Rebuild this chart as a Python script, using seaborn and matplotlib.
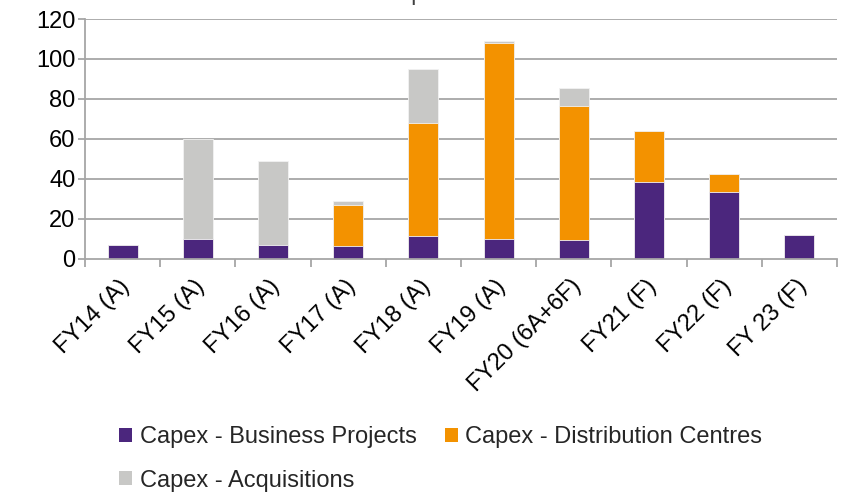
import matplotlib
matplotlib.use("Agg")
import matplotlib.pyplot as plt
import matplotlib.transforms as mtransforms
import seaborn as sns
import pandas as pd
import numpy as np
from matplotlib.patches import Patch

categories = ["FY14 (A)", "FY15 (A)", "FY16 (A)", "FY17 (A)", "FY18 (A)",
              "FY19 (A)", "FY20 (6A+6F)", "FY21 (F)", "FY22 (F)", "FY 23 (F)"]
business_projects = [7, 10, 7, 6.5, 11.5, 10, 9.5, 38.5, 33.5, 12]
distribution_centres = [0, 0, 0, 20.5, 56.5, 98, 67, 25.5, 9, 0]
acquisitions = [0, 50, 42, 2, 27, 1, 9, 0, 0, 0]
series_names = ["Capex - Business Projects", "Capex - Distribution Centres", "Capex - Acquisitions"]
yticks = [0, 20, 40, 60, 80, 100, 120]

c_bp = "#4B267D"
c_dc = "#F39200"
c_acq = "#C8C8C6"

sns.set_theme(style="white")
plt.rcParams['font.family'] = ['Liberation Sans', 'DejaVu Sans']

df = pd.DataFrame({
    "cat": categories,
    "bp": business_projects,
    "dc": distribution_centres,
    "acq": acquisitions,
})
df["lvl2"] = df["bp"] + df["dc"]
df["lvl3"] = df["lvl2"] + df["acq"]

fig = plt.figure(figsize=(8.45, 4.92), dpi=100)
ax = fig.add_axes([85 / 845, 1 - 258.5 / 492, (837 - 85) / 845, (258.5 - 19) / 492])

gridc = "#A6A6A6"
for y in yticks[1:]:
    ax.axhline(y, color=gridc, lw=1.3, zorder=0)

kw = dict(width=0.4, edgecolor="#F2F2F2", linewidth=0.6, ax=ax, zorder=2)
sns.barplot(data=df, x="cat", y="lvl3", color=c_acq, saturation=1, **kw)
sns.barplot(data=df, x="cat", y="lvl2", color=c_dc, saturation=1, **kw)
sns.barplot(data=df, x="cat", y="bp", color=c_bp, saturation=1, **kw)

ax.set_xlim(-0.5, len(categories) - 0.5)
ax.set_ylim(0, 120)
ax.set_yticks(yticks)
ax.set_xlabel("")
ax.set_ylabel("")

for s in ["top", "right"]:
    ax.spines[s].set_visible(False)
for s in ["left", "bottom"]:
    ax.spines[s].set_color(gridc)
    ax.spines[s].set_linewidth(1.3)

ax.tick_params(axis="y", which="major", left=True, length=5, width=1.3, color=gridc,
               labelsize=17, labelcolor="black", pad=2)
ax.set_xticks(range(len(categories)))
ax.set_xticklabels(categories, rotation=45, ha="right", rotation_mode="anchor")
ax.tick_params(axis="x", which="major", bottom=False, length=0, labelsize=17, labelcolor="black", pad=12)
offset = mtransforms.ScaledTranslation(-4 / 100, 0, fig.dpi_scale_trans)
for lab in ax.get_xticklabels():
    lab.set_transform(lab.get_transform() + offset)
ax.set_xticks(np.arange(-0.5, len(categories), 1.0), minor=True)
ax.tick_params(axis="x", which="minor", bottom=True, length=6, width=1.3, color=gridc)

fig.text(416 / 845, 1.0, "Capex", ha="center", va="baseline", fontsize=17, color="#404040")

handles = [Patch(facecolor=c_bp, edgecolor="none"),
           Patch(facecolor=c_acq, edgecolor="none"),
           Patch(facecolor=c_dc, edgecolor="none")]
labels = [series_names[0], series_names[2], series_names[1]]
fig.legend(handles, labels, ncol=2, loc="upper left", bbox_to_anchor=(110 / 845, 1 - 417 / 492),
           frameon=False, fontsize=17, handlelength=0.55, handleheight=0.55, handletextpad=0.3,
           columnspacing=1.2, labelspacing=0.9, borderaxespad=0)

fig.savefig("out.png", dpi=100)
